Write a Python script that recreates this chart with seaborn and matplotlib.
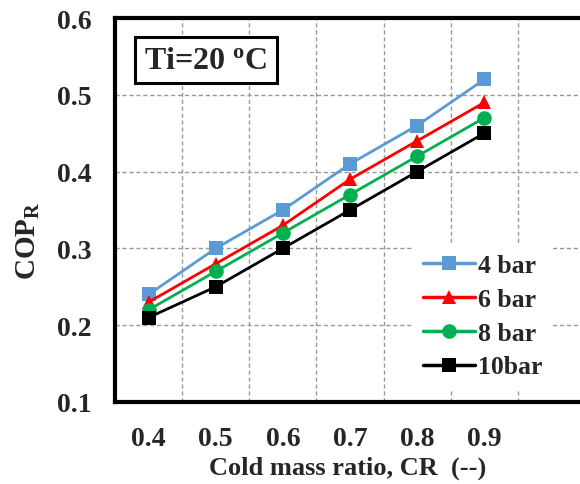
import numpy as np
import pandas as pd
import matplotlib
matplotlib.use("Agg")
import matplotlib.pyplot as plt
import seaborn as sns

# ---- data ----
cold_mass_ratio = [0.4, 0.5, 0.6, 0.7, 0.8, 0.9]
cop_4bar = [0.24, 0.30, 0.35, 0.41, 0.46, 0.52]
cop_6bar = [0.23, 0.28, 0.33, 0.39, 0.44, 0.49]
cop_8bar = [0.22, 0.27, 0.32, 0.37, 0.42, 0.47]
cop_10bar = [0.21, 0.25, 0.30, 0.35, 0.40, 0.45]
series_names = ["4 bar", "6 bar", "8 bar", "10bar"]
x_tick_labels = ["0.4", "0.5", "0.6", "0.7", "0.8", "0.9"]
y_ticks = [0.1, 0.2, 0.3, 0.4, 0.5, 0.6]

sns.set_theme(style="white")
plt.rcParams['font.family'] = ['Liberation Serif', 'DejaVu Serif']
plt.rcParams['font.weight'] = 'bold'
plt.rcParams['mathtext.fontset'] = 'custom'
plt.rcParams['mathtext.rm'] = 'Liberation Serif:bold'
plt.rcParams['mathtext.bf'] = 'Liberation Serif:bold'
plt.rcParams['mathtext.it'] = 'Liberation Serif:bold'

rows = []
for name, vals in zip(series_names, [cop_4bar, cop_6bar, cop_8bar, cop_10bar]):
    for x, y in zip(cold_mass_ratio, vals):
        rows.append({"CR": x, "COP": y, "Pressure": name})
df = pd.DataFrame(rows)

palette = {"4 bar": "#5B9BD5", "6 bar": "#FF0000", "8 bar": "#00B050", "10bar": "#000000"}
markers = {"4 bar": "s", "6 bar": "^", "8 bar": "o", "10bar": "s"}

W, H = 580, 485
fig = plt.figure(figsize=(W / 100, H / 100), dpi=100)
ax = fig.add_axes([115 / W, (H - 403) / H, 470 / W, 384 / H])

sns.lineplot(data=df, x="CR", y="COP", hue="Pressure", style="Pressure",
             hue_order=series_names, style_order=series_names,
             palette=palette, markers=markers, dashes=False,
             linewidth=2.0, markersize=10.5, markeredgewidth=0, ax=ax, zorder=3)

ax.set_xlim(0.35, 1.05)
ax.set_ylim(0.1, 0.6)
ax.set_xticks(cold_mass_ratio)
ax.set_xticklabels(x_tick_labels)
ax.set_xticks([0.45, 0.55, 0.65, 0.75, 0.85, 0.95], minor=True)
ax.set_yticks(y_ticks)
ax.set_yticklabels([f"{v:.1f}" for v in y_ticks])
ax.tick_params(axis="both", which="both", length=0, labelsize=20)
ax.tick_params(axis="x", pad=17)
ax.tick_params(axis="y", pad=17)
for lab in ax.get_xticklabels() + ax.get_yticklabels():
    lab.set_fontweight("bold")

ax.grid(False)
ax.xaxis.grid(True, which="minor", color="#999999", linestyle=(0, (3, 2)), linewidth=1)
ax.yaxis.grid(True, which="major", color="#999999", linestyle=(0, (3, 2)), linewidth=1)
ax.set_axisbelow(True)

for side in ["left", "bottom", "top"]:
    ax.spines[side].set_visible(True)
    ax.spines[side].set_color("black")
    ax.spines[side].set_linewidth(3)
ax.spines["right"].set_visible(False)

ax.set_xlabel("Cold mass ratio, CR  (--)", fontsize=19, fontweight="bold")
ax.xaxis.label.set_va("center")
ax.xaxis.set_label_coords((348 - 115) / 470, -(468 - 403) / 384)
ax.set_ylabel(r"COP$_\mathregular{R}$", fontsize=21, fontweight="bold")
ax.yaxis.label.set_va("center")
ax.yaxis.set_label_coords(-(115 - 28) / 470, (403 - 241) / 384)

leg = ax.legend(loc="upper left", bbox_to_anchor=((400 - 115) / 470, (403 - 232) / 384),
                frameon=True, fancybox=False, framealpha=1, edgecolor="none",
                facecolor="white", fontsize=18.5, handlelength=2.0, handletextpad=0.15,
                labelspacing=0.42, borderpad=0.4, title=None)
for t in leg.get_texts():
    t.set_fontweight("bold")
for h in leg.legend_handles:
    h.set_markersize(10.5)
    h.set_linewidth(2.5)

ax.text((206 - 115) / 470, (403 - 61) / 384, r"Ti=20 $^\mathregular{o}$C", transform=ax.transAxes,
        ha="center", va="center", fontsize=23, fontweight="bold",
        bbox=dict(boxstyle="square,pad=0.28", fc="white", ec="black", lw=2.2), zorder=5)

fig.savefig("out.png", dpi=100)
